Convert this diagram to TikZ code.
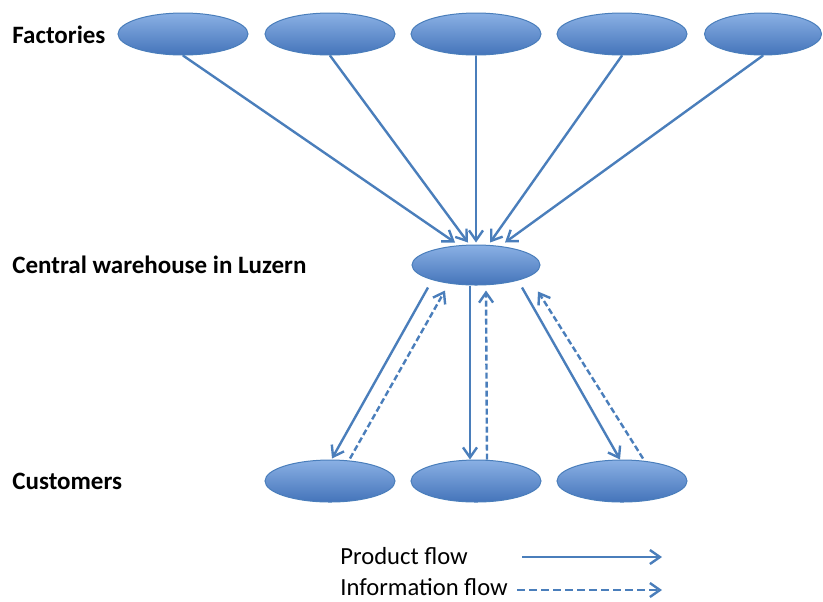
\documentclass[tikz,border=0pt]{standalone}
\usepackage{fontspec}
\setmainfont{Carlito}
\usetikzlibrary{arrows.meta,shapes.geometric}
\definecolor{flowblue}{RGB}{74,126,187}
\definecolor{topblue}{RGB}{138,176,228}
\definecolor{botblue}{RGB}{68,116,186}
\tikzset{
  site/.style={ellipse, draw=flowblue, line width=0.5pt, top color=topblue,
    bottom color=botblue, minimum width=65pt, minimum height=21pt, inner sep=0pt},
  prod/.style={draw=flowblue, line width=1.2pt, -{Straight Barb[length=5pt,width=7pt]}},
  info/.style={prod, dash pattern=on 3pt off 1.5pt},
  lbl/.style={font=\fontsize{12.5}{15}\selectfont\bfseries, anchor=west, inner sep=0pt},
  key/.style={font=\fontsize{12.3}{15}\selectfont, anchor=west, inner sep=0pt}
}
\begin{document}
\begin{tikzpicture}[x=0.5pt,y=-0.5pt]
  \useasboundingbox (0,0) rectangle (823,601);
  % row labels
  \node[lbl] (lfac) at (12,35) {Factories};
  \node[lbl] (lwh) at (12,265) {Central warehouse in Luzern};
  \node[lbl] (lcus) at (12,481) {Customers};
  % factories
  \foreach \i/\x in {1/183,2/330,3/476,4/622}
    \node[site] (f\i) at (\x,34) {};
  \node[site, minimum width=58.5pt] (f5) at (763,34) {};
  % warehouse
  \node[site, minimum width=64pt, minimum height=20pt] (wh) at (476,265) {};
  % customers
  \foreach \i/\x in {1/330,2/476,3/622}
    \node[site] (c\i) at (\x,481) {};
  % factories to warehouse
  \draw[prod] (f1.south) -- ([xshift=-10.5pt,yshift=1pt]wh.north);
  \draw[prod] (f2.south) -- ([xshift=-4pt,yshift=1pt]wh.north);
  \draw[prod] (f3.south) -- ([yshift=1pt]wh.north);
  \draw[prod] (f4.south) -- ([xshift=7pt,yshift=1pt]wh.north);
  \draw[prod] (f5.south) -- ([xshift=14.5pt,yshift=1pt]wh.north);
  % warehouse to customers and back
  \draw[prod] ([xshift=-24pt,yshift=-1pt]wh.south) -- ([xshift=1pt,yshift=0.5pt]c1.north);
  \draw[info] ([xshift=10pt,yshift=0.5pt]c1.north) -- ([xshift=-15.5pt,yshift=-2.5pt]wh.south);
  \draw[prod] ([xshift=-3pt]wh.south) -- ([xshift=-3pt]c2.north);
  \draw[info] ([xshift=5.5pt]c2.north) -- ([xshift=5pt,yshift=-2.5pt]wh.south);
  \draw[prod] ([xshift=23pt,yshift=-1pt]wh.south) -- ([xshift=-1pt]c3.north);
  \draw[info] ([xshift=10.5pt,yshift=0.5pt]c3.north) -- ([xshift=31pt,yshift=-3pt]wh.south);
  % legend
  \node[key] (kprod) at (340,556) {Product flow};
  \node[key] (kinfo) at (340,587) {Information flow};
  \coordinate (p0) at (522,557);
  \coordinate (p1) at (662,557);
  \coordinate (i0) at (517,590);
  \coordinate (i1) at (662,590);
  \draw[prod] (p0) -- (p1);
  \draw[info, dash pattern=on 4pt off 2pt] (i0) -- (i1);
\end{tikzpicture}
\end{document}
